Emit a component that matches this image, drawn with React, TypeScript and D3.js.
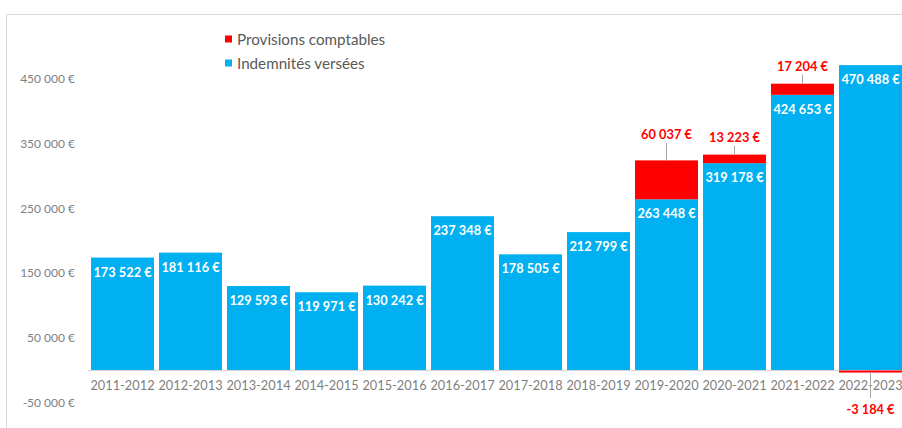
import React from 'react';
import * as d3 from 'd3';

const categories = ['2011-2012', '2012-2013', '2013-2014', '2014-2015', '2015-2016', '2016-2017', '2017-2018', '2018-2019', '2019-2020', '2020-2021', '2021-2022', '2022-2023'];
const indemnites = [173522, 181116, 129593, 119971, 130242, 237348, 178505, 212799, 263448, 319178, 424653, 470488];
const provisions: (number | null)[] = [null, null, null, null, null, null, null, null, 60037, 13223, 17204, -3184];
const yTicks = [-50000, 50000, 150000, 250000, 350000, 450000];
const legendItems = [
  { label: 'Provisions comptables', color: '#FF0000' },
  { label: 'Indemnités versées', color: '#00B0F0' },
];

const W = 902;
const H = 428;
const BLUE = '#00B0F0';
const RED = '#FF0000';
const FONT = 'Lato, "Open Sans", sans-serif';
// leader-line lengths for the red labels (layout only)
const leaderLen: Record<number, number> = { 8: 17, 9: 9, 10: 9, 11: 26 };

const loc = d3.formatLocale({ decimal: ',', thousands: '\u00a0', grouping: [3], currency: ['', '\u00a0€'], minus: '-' });
const fmt = (v: number) => loc.format('$,.0f')(v);

export default function App() {
  const x = d3.scaleBand<string>().domain(categories).range([88.5, 904.5]).paddingInner(0.074).paddingOuter(0.037);
  const y = d3.scaleLinear().domain([-80000, 500000]).range([421.84, 46]);
  const y0 = y(0);
  const bw = x.bandwidth();

  return (
    <svg width={W} height={H} style={{ position: 'absolute', left: 0, top: 0, background: '#fff' }} fontFamily={FONT}>
      {/* frame */}
      <line x1={6.5} x2={W} y1={14.5} y2={14.5} stroke="#d9d9d9" />
      <line x1={6.5} x2={6.5} y1={14.5} y2={H} stroke="#d9d9d9" />

      {/* y axis labels */}
      {yTicks.map((t) => (
        <text key={t} x={75} y={y(t)} textAnchor="end" dominantBaseline="central" fontSize={12} fill="#7f7f7f">
          {fmt(t)}
        </text>
      ))}

      {/* x axis line */}
      <line x1={88} x2={W} y1={y0 + 0.5} y2={y0 + 0.5} stroke="#d9d9d9" strokeWidth={1.5} />

      {/* blue bars */}
      {categories.map((c, i) => {
        const v = indemnites[i];
        return (
          <rect key={'b' + c} x={x(c)} y={y(v)} width={bw} height={y0 - y(v)} fill={BLUE} />
        );
      })}

      {/* red segments */}
      {categories.map((c, i) => {
        const p = provisions[i];
        if (p == null) return null;
        const base = p >= 0 ? indemnites[i] : 0;
        const top = y(base + p);
        const bot = y(base);
        const ry = Math.min(top, bot);
        const rh = Math.max(1.5, Math.abs(bot - top));
        return (
          <rect key={'r' + c} x={x(c)} y={p >= 0 ? ry : y0 + 0.5} width={bw} height={rh} fill={RED} />
        );
      })}

      {/* x labels */}
      {categories.map((c) => (
        <text key={'x' + c} x={(x(c) as number) + bw / 2} y={385} textAnchor="middle" dominantBaseline="central" fontSize={12.8} fill="#7f7f7f">
          {c}
        </text>
      ))}

      {/* blue value labels */}
      {categories.map((c, i) => (
        <text key={'v' + c} x={(x(c) as number) + bw / 2} y={y(indemnites[i]) + 14} textAnchor="middle" dominantBaseline="central" fontSize={12.8} fontWeight="bold" fill="#ffffff">
          {fmt(indemnites[i])}
        </text>
      ))}

      {/* red value labels with leader lines */}
      {categories.map((c, i) => {
        const p = provisions[i];
        if (p == null) return null;
        const cx = (x(c) as number) + bw / 2;
        const len = leaderLen[i] ?? 10;
        if (p >= 0) {
          const top = y(indemnites[i] + p);
          return (
            <g key={'rl' + c}>
              <line x1={cx} x2={cx} y1={top} y2={top - len} stroke="#a6a6a6" />
              <text x={cx} y={top - len - 9} textAnchor="middle" dominantBaseline="central" fontSize={12.8} fontWeight="bold" fill={RED}>
                {fmt(p)}
              </text>
            </g>
          );
        }
        const bot = y0 + 2;
        return (
          <g key={'rl' + c}>
            <line x1={cx} x2={cx} y1={bot} y2={bot + len} stroke="#a6a6a6" />
            <text x={cx} y={bot + len + 11} textAnchor="middle" dominantBaseline="central" fontSize={12.8} fontWeight="bold" fill={RED}>
              {fmt(p)}
            </text>
          </g>
        );
      })}

      {/* legend */}
      {legendItems.map((l, i) => (
        <g key={l.label} transform={`translate(225, ${39 + i * 24})`}>
          <rect x={0} y={-3.5} width={7} height={7} fill={l.color} />
          <text x={12} y={0} dominantBaseline="central" fontSize={15.2} fill="#595959">
            {l.label}
          </text>
        </g>
      ))}
    </svg>
  );
}
